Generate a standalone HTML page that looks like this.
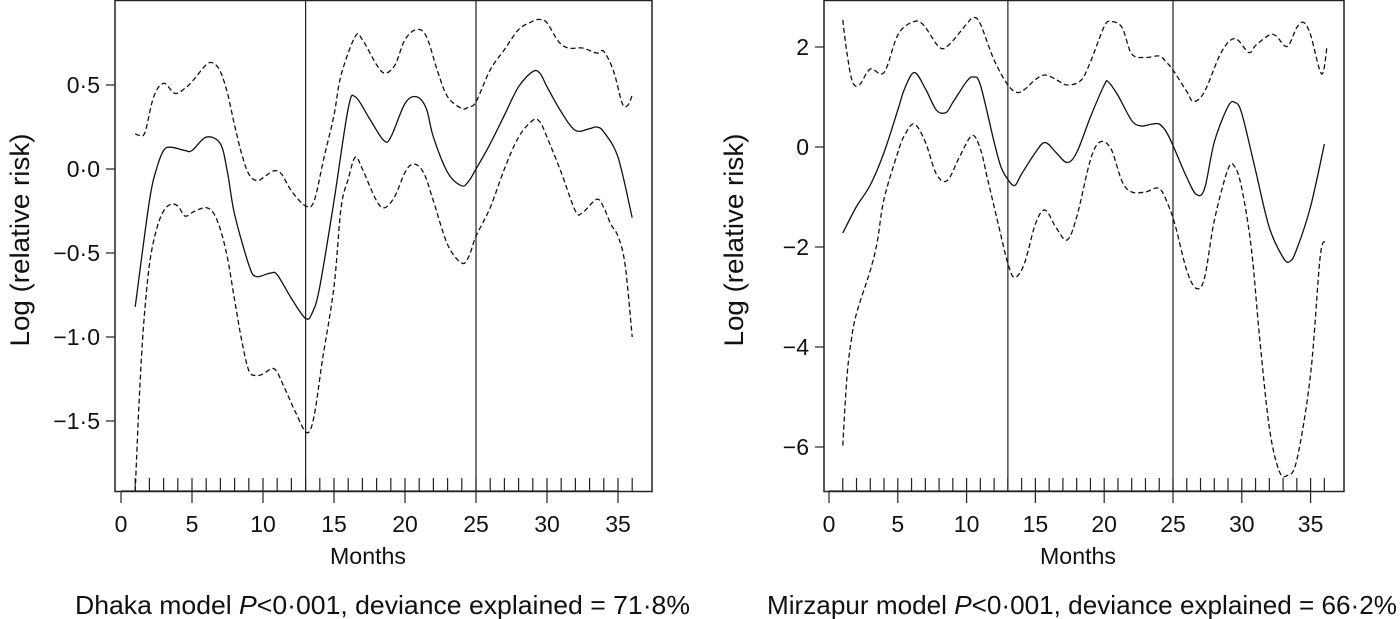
<!DOCTYPE html>
<html><head><meta charset="utf-8"><style>
html,body{margin:0;padding:0;background:#fff;}
svg{display:block;font-family:"Liberation Sans Narrow","Liberation Sans",sans-serif;}
</style></head><body>
<svg id="chart" width="1400" height="619" viewBox="0 0 1400 619" xmlns="http://www.w3.org/2000/svg"></svg>
<script>
// Dhaka panel data
const dhakaFitM = [1,2,2.5,3,3.5,4.5,5,6,7,7.5,8,9,9.5,10.5,11,12,13,13.5,14,15,16,16.5,17.5,18.5,19,20,20.8,21.5,22,23,24,24.5,25,26,27,28,29,29.5,30,31,32,33,33.5,34,35,36];
const dhakaFitV = [-0.82,-0.19,0,0.11,0.13,0.11,0.11,0.19,0.15,-0.02,-0.27,-0.57,-0.64,-0.62,-0.63,-0.77,-0.89,-0.85,-0.70,-0.19,0.36,0.43,0.30,0.17,0.19,0.39,0.43,0.36,0.19,-0.02,-0.10,-0.07,0,0.15,0.32,0.49,0.58,0.57,0.49,0.34,0.23,0.24,0.25,0.22,0.07,-0.29];
const dhakaUpM = [1,1.3,1.7,2.3,3,3.8,4.5,5,6,6.5,7,7.5,8,8.5,9,9.6,10.2,10.8,11.3,12,13,13.6,14.3,15,15.5,16.5,17,18,18.6,19.3,20,20.8,21.5,22.3,23,24,24.5,25,26,27,28,29,29.5,30,30.8,31.5,32.5,33.5,34,34.7,35.3,35.7,36];
const dhakaUpV = [0.21,0.20,0.22,0.43,0.51,0.45,0.48,0.52,0.62,0.63,0.58,0.45,0.26,0.09,-0.03,-0.07,-0.04,-0.01,-0.03,-0.13,-0.22,-0.19,0.07,0.32,0.56,0.79,0.77,0.62,0.57,0.62,0.77,0.83,0.79,0.58,0.43,0.36,0.37,0.40,0.59,0.71,0.83,0.88,0.89,0.87,0.76,0.72,0.72,0.69,0.70,0.58,0.39,0.38,0.44];
const dhakaLoM = [1,1.3,1.6,2,2.5,3,3.5,4,4.5,5,5.5,6,6.5,7,7.5,8,8.5,9,9.5,10,10.8,11.5,12.3,13.1,13.6,14.2,15,15.5,16,16.5,17,18,18.6,19.3,20,20.6,21.3,22,23,24,24.5,25,26,27,28,29,29.5,30,31,32,32.5,33.5,34,34.5,35,35.5,36];
const dhakaLoV = [-1.92,-1.34,-0.92,-0.57,-0.36,-0.25,-0.21,-0.22,-0.28,-0.26,-0.24,-0.23,-0.26,-0.36,-0.53,-0.78,-1.02,-1.20,-1.23,-1.22,-1.19,-1.30,-1.45,-1.57,-1.47,-1.13,-0.70,-0.23,-0.06,0.07,0.0,-0.19,-0.23,-0.16,-0.02,0.03,-0.02,-0.19,-0.45,-0.56,-0.52,-0.40,-0.23,0.0,0.19,0.29,0.28,0.19,-0.02,-0.25,-0.26,-0.18,-0.23,-0.33,-0.40,-0.57,-1.0];
const dhakaYTicks = [0.5,0,-0.5,-1,-1.5];
const dhakaYLabels = ["0·5","0·0","\u22120·5","\u22121·0","\u22121·5"];

// Mirzapur panel data
const mirzFitM = [1,2,3,4,5,5.5,6.2,7,7.8,8.5,9,10,10.5,11,12,12.5,13,13.5,14,15,15.7,16.5,17.3,18,19,20,20.3,21,22,22.7,23.5,24,24.5,25,26,26.7,27.3,28,29,29.5,30,31,32,33,33.5,34,35,36];
const mirzFitV = [-1.72,-1.19,-0.76,-0.11,0.74,1.17,1.49,1.17,0.74,0.69,0.89,1.31,1.40,1.24,0.10,-0.40,-0.65,-0.77,-0.54,-0.11,0.09,-0.11,-0.31,-0.11,0.60,1.24,1.30,1.03,0.53,0.42,0.46,0.46,0.31,0.03,-0.61,-0.95,-0.83,0.10,0.81,0.89,0.67,-0.47,-1.61,-2.21,-2.29,-2.04,-1.19,0.06];
const mirzUpM = [1,1.3,1.7,2.2,3,4,5,6,6.8,8,8.7,10,10.5,11,12,13,13.7,14.3,15,15.7,16.5,17.3,18.3,19,20,20.5,21.3,22,23,24,24.5,25,26,26.5,27.3,28.5,29.5,30.5,31,32,32.5,33.3,34,34.5,35,35.8,36.2];
const mirzUpV = [2.54,1.89,1.31,1.24,1.56,1.49,2.24,2.49,2.46,2.0,2.04,2.46,2.59,2.46,1.74,1.24,1.09,1.17,1.35,1.44,1.35,1.24,1.33,1.70,2.41,2.51,2.39,1.86,1.79,1.82,1.70,1.54,1.11,0.91,1.11,1.89,2.17,1.89,2.03,2.24,2.22,2.01,2.39,2.49,2.24,1.46,2.03];
const mirzLoM = [1,1.3,1.6,2,3,3.5,4,5,5.5,6.2,7,7.8,8.6,9.5,10.4,11,11.5,12.3,13,13.5,14.2,15,15.7,16.5,17.3,18,19,19.7,20.5,21.3,22,23,24,24.7,25.2,26,26.7,27.3,28,29,29.5,30,30.7,31.3,32,32.7,33.3,34,35,35.7,36.1];
const mirzLoV = [-5.97,-4.61,-3.90,-3.33,-2.47,-1.90,-1.04,-0.11,0.24,0.46,0.10,-0.54,-0.67,-0.19,0.23,-0.04,-0.61,-1.54,-2.33,-2.61,-2.33,-1.54,-1.26,-1.61,-1.86,-1.40,-0.26,0.10,-0.04,-0.69,-0.90,-0.90,-0.83,-1.19,-1.61,-2.47,-2.83,-2.61,-1.47,-0.44,-0.40,-0.83,-2.04,-3.83,-5.61,-6.47,-6.57,-6.26,-4.54,-2.19,-1.90];
const mirzYTicks = [2,0,-2,-4,-6];
const mirzYLabels = ["2","0","\u22122","\u22124","\u22126"];

const xTicks = [0,5,10,15,20,25,30,35];
const rugMonths = [1,2,3,4,5,6,7,8,9,10,11,12,13,14,15,16,17,18,19,20,21,22,23,24,25,26,27,28,29,30,31,32,33,34,35,36];
const breakMonths = [13,25];

const NS = "http://www.w3.org/2000/svg";
const svg = document.getElementById('chart');
function mk(tag, attrs, parent){
  const e = document.createElementNS(NS, tag);
  for (const k in attrs) e.setAttribute(k, attrs[k]);
  (parent||svg).appendChild(e);
  return e;
}
function smoothPath(pts){
  let d = "M" + pts[0][0].toFixed(1) + "," + pts[0][1].toFixed(1);
  for (let i=0;i<pts.length-1;i++){
    const p0 = pts[Math.max(0,i-1)], p1 = pts[i], p2 = pts[i+1], p3 = pts[Math.min(pts.length-1,i+2)];
    const c1x = p1[0] + (p2[0]-p0[0])/6, c1y = p1[1] + (p2[1]-p0[1])/6;
    const c2x = p2[0] - (p3[0]-p1[0])/6, c2y = p2[1] - (p3[1]-p1[1])/6;
    d += " C" + c1x.toFixed(1)+","+c1y.toFixed(1)+" "+c2x.toFixed(1)+","+c2y.toFixed(1)+" "+p2[0].toFixed(1)+","+p2[1].toFixed(1);
  }
  return d;
}

function panel(cfg){
  const g = mk('g', {});
  
  
  const X = m => cfg.x0 + m * cfg.xs;
  const Y = v => cfg.yRef - (v - cfg.vRef) * cfg.ys;
  const clip = mk('clipPath', {id: cfg.name + '-clip'}, g);
  mk('rect', {x: cfg.bl, y: 0, width: cfg.br - cfg.bl, height: 491}, clip);

  const box = mk('rect', {x: cfg.bl, y: 0.5, width: cfg.br - cfg.bl, height: 491, fill: 'none', stroke: '#222', 'stroke-width': 1.5}, g);
  
  

  cfg.yTicks.forEach((v, i) => {
    const t = mk('line', {x1: cfg.bl - 9, x2: cfg.bl, y1: Y(v), y2: Y(v), stroke: '#222', 'stroke-width': 1.2}, g);
    
    
    const lab = mk('text', {x: cfg.bl - 15, y: Y(v) + 8, 'text-anchor': 'end', 'font-size': 23, fill: '#111'}, g);
    lab.textContent = cfg.yLabels[i];
    
    
  });
  const ax = mk('line', {x1: X(xTicks[0]), x2: X(xTicks[xTicks.length-1]), y1: 491, y2: 491, stroke: '#222', 'stroke-width': 1.2}, g);
  
  
  xTicks.forEach(m => {
    const t = mk('line', {x1: X(m), x2: X(m), y1: 491, y2: 503, stroke: '#222', 'stroke-width': 1.2}, g);
    
    
    const lab = mk('text', {x: X(m), y: 532, 'text-anchor': 'middle', 'font-size': 23, fill: '#111'}, g);
    lab.textContent = String(m);
    
    
  });
  rugMonths.forEach(m => {
    const r = mk('line', {x1: X(m), x2: X(m), y1: 478, y2: 491, stroke: '#222', 'stroke-width': 1.2}, g);
    
    
  });
  breakMonths.forEach(m => {
    const l = mk('line', {x1: X(m), x2: X(m), y1: 0, y2: 491, stroke: '#222', 'stroke-width': 1.2}, g);
    
    
  });
  const series = [
    [cfg.upM, cfg.upV, 'upper-ci-line', '5,3'],
    [cfg.loM, cfg.loV, 'lower-ci-line', '5,3'],
    [cfg.fitM, cfg.fitV, 'fitted-line', null]
  ];
  series.forEach(s => {
    const pts = s[0].map((m, i) => [X(m), Y(s[1][i])]);
    const attrs = {d: smoothPath(pts), fill: 'none', stroke: '#111', 'stroke-width': 1.3, 'clip-path': 'url(#' + cfg.name + '-clip)'};
    if (s[3]) attrs['stroke-dasharray'] = s[3];
    const p = mk('path', attrs, g);
    
    
  });
  const yt = mk('text', {x: cfg.ytx, y: 240, 'text-anchor': 'middle', 'font-size': 27, fill: '#111', transform: 'rotate(-90 ' + cfg.ytx + ' 240)', textLength: 213, lengthAdjust: 'spacingAndGlyphs'}, g);
  yt.textContent = 'Log (relative risk)';
  
  
  const xt = mk('text', {x: cfg.xtx, y: 564, 'text-anchor': 'middle', 'font-size': 23, fill: '#111', textLength: 76, lengthAdjust: 'spacingAndGlyphs'}, g);
  xt.textContent = 'Months';
  
  
  const cap = mk('text', {x: cfg.capX, y: 614, 'font-size': 26, fill: '#111', textLength: cfg.capW, lengthAdjust: 'spacingAndGlyphs'}, g);
  const a = document.createElementNS(NS, 'tspan'); a.textContent = cfg.capA; cap.appendChild(a);
  const b = document.createElementNS(NS, 'tspan'); b.setAttribute('font-style', 'italic'); b.textContent = 'P'; cap.appendChild(b);
  const c = document.createElementNS(NS, 'tspan'); c.textContent = cfg.capB; cap.appendChild(c);
  
  
}

panel({name: 'dhaka', x0: 121, xs: 14.2, bl: 115, br: 652, yRef: 169, vRef: 0, ys: 168,
  yTicks: dhakaYTicks, yLabels: dhakaYLabels,
  fitM: dhakaFitM, fitV: dhakaFitV, upM: dhakaUpM, upV: dhakaUpV, loM: dhakaLoM, loV: dhakaLoV,
  ytx: 29, xtx: 368, capX: 75, capW: 615, capA: 'Dhaka model ', capB: '<0·001, deviance explained = 71·8%'});
panel({name: 'mirzapur', x0: 829, xs: 13.76, bl: 824, br: 1344, yRef: 147, vRef: 0, ys: 50,
  yTicks: mirzYTicks, yLabels: mirzYLabels,
  fitM: mirzFitM, fitV: mirzFitV, upM: mirzUpM, upV: mirzUpV, loM: mirzLoM, loV: mirzLoV,
  ytx: 743, xtx: 1078, capX: 767, capW: 630, capA: 'Mirzapur model ', capB: '<0·001, deviance explained = 66·2%'});
</script>
</body></html>
